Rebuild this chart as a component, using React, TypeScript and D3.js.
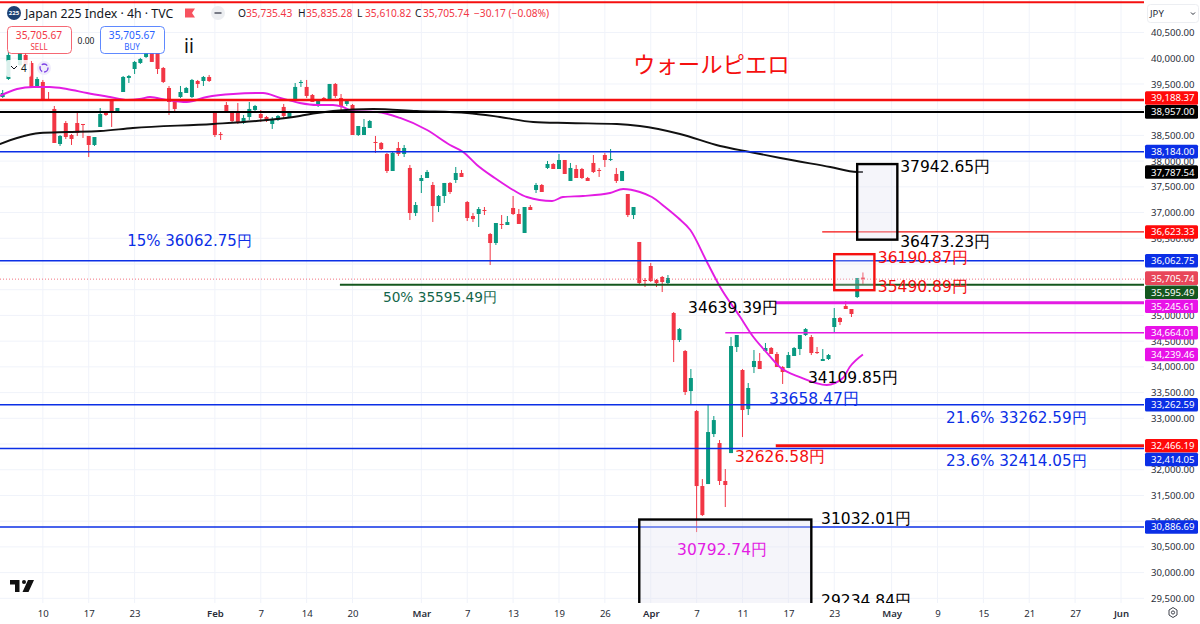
import React, { useEffect, useRef } from 'react';
import * as d3 from 'd3';

const WIDTH = 1200;
const HEIGHT = 624;
const PLOT_RIGHT = 1144;
const PLOT_BOTTOM = 603;

const UP = '#089981';
const DOWN = '#f23645';
const BLUE = '#0b2fe6';
const RED = '#f50f0f';
const MAGENTA = '#e31ce3';
const DARK_GREEN = '#14571f';
const FONT_UI = '"Noto Sans", sans-serif';
const FONT_NOTE = '"DejaVu Sans", sans-serif';

// open, high, low, close for every 4h bar
const bars: number[][] = [
  [39247, 39383, 39228, 39325], [39597, 40122, 39578, 40064], [40258, 40277, 40122, 40122], [39869, 40122, 39850, 40103],
  [40064, 40103, 39850, 39869], [39908, 39947, 39422, 39442], [39442, 39636, 39422, 39597], [39539, 39578, 39189, 39189],
  [39208, 39344, 39189, 39189], [39014, 39072, 38353, 38353], [38333, 38508, 38294, 38489], [38741, 38780, 38430, 38469],
  [38508, 38528, 38314, 38430], [38741, 38936, 38489, 38547], [38722, 38722, 38450, 38703], [38489, 38489, 38080, 38314],
  [38314, 38469, 38294, 38469], [38664, 39033, 38664, 38916], [38936, 38975, 38878, 38897], [39189, 39189, 38664, 38955],
  [38955, 39033, 38936, 39033], [39344, 39655, 39344, 39636], [39617, 39675, 39519, 39655], [39791, 39947, 39694, 39928],
  [39908, 40006, 39889, 39986], [40025, 40122, 40006, 40103], [40103, 40122, 39928, 39928], [40103, 40122, 39694, 39791],
  [39811, 39830, 39519, 39539], [39422, 39461, 38897, 39150], [39150, 39170, 38936, 39014], [39247, 39461, 39228, 39344],
  [39325, 39442, 39325, 39422], [39247, 39597, 39228, 39578], [39558, 39578, 39422, 39500], [39558, 39655, 39461, 39636],
  [39636, 39675, 39539, 39558], [38936, 38955, 38469, 38508], [38528, 38566, 38411, 38508], [39092, 39150, 38955, 38975],
  [38936, 38955, 38761, 38780], [38975, 39131, 38722, 38741], [38741, 38897, 38722, 38839], [38858, 39150, 38800, 39014],
  [38994, 39092, 38975, 39072], [38916, 38994, 38761, 38839], [38858, 38878, 38761, 38780], [38722, 38858, 38625, 38800],
  [38800, 38897, 38780, 38878], [39053, 39111, 38819, 38878], [38858, 38975, 38839, 38955], [39170, 39519, 39170, 39442],
  [39519, 39578, 39442, 39539], [39442, 39578, 39228, 39267], [39286, 39305, 39150, 39150], [39092, 39189, 39053, 39189],
  [39228, 39247, 39208, 39208], [39208, 39500, 39208, 39500], [39500, 39519, 39228, 39267], [39228, 39305, 38994, 39072],
  [39111, 39189, 39072, 39170], [39092, 39111, 38508, 38508], [38508, 38683, 38489, 38683], [38508, 38819, 38508, 38664],
  [38644, 38800, 38644, 38780], [38372, 38489, 38158, 38353], [38353, 38372, 38217, 38236], [38139, 38158, 37769, 37808],
  [37808, 38178, 37808, 38158], [38255, 38372, 38100, 38139], [38139, 38314, 38080, 38255], [37867, 37925, 36855, 36991],
  [36991, 37205, 36933, 37147], [37614, 37730, 37380, 37672], [37672, 37828, 37672, 37789], [37536, 37594, 36816, 37127],
  [37127, 37341, 37011, 37322], [37322, 37575, 37186, 37575], [37575, 37594, 37361, 37400], [37633, 37886, 37575, 37769],
  [37769, 37828, 37692, 37692], [37205, 37225, 36835, 36894], [36933, 36991, 36816, 36874], [36972, 37108, 36719, 37069],
  [37050, 37108, 36952, 37030], [36583, 36603, 35980, 36408], [36408, 36797, 36369, 36797], [36778, 36952, 36680, 36758],
  [36758, 36933, 36758, 36816], [37089, 37322, 36952, 36972], [36972, 37069, 36778, 36778], [36603, 37108, 36603, 37108],
  [37108, 37147, 37050, 37050], [37439, 37575, 37380, 37536], [37536, 37555, 37400, 37400], [37867, 38003, 37847, 37944],
  [37944, 37964, 37847, 37847], [37847, 38139, 37847, 38022], [38022, 38022, 37750, 37750], [37614, 37964, 37614, 37867],
  [37847, 37925, 37672, 37672], [37847, 37867, 37653, 37672], [37672, 37692, 37614, 37614], [37964, 38119, 37769, 37789],
  [37828, 37867, 37692, 37808], [38119, 38158, 37886, 38022], [38022, 38236, 38003, 38041], [37750, 37867, 37575, 37614],
  [37614, 37808, 37614, 37808], [37361, 37361, 36913, 36952], [36952, 37108, 36874, 37108], [36428, 36428, 35611, 35630],
  [35689, 35728, 35553, 35669], [35961, 36020, 35650, 35669], [35689, 35708, 35553, 35630], [35747, 35767, 35455, 35650],
  [35630, 35786, 35611, 35728], [35047, 35066, 34094, 34522], [34522, 34755, 34483, 34735], [34308, 34328, 33453, 33511],
  [33530, 33958, 33258, 33783], [33141, 33161, 30788, 31683], [31683, 31819, 31100, 31119], [31722, 33258, 31722, 32733],
  [32694, 33044, 32636, 32966], [32519, 32578, 31703, 31781], [31781, 32014, 31275, 31703], [32324, 34580, 32324, 34405],
  [34386, 34619, 34289, 34619], [33939, 33958, 32636, 33161], [33180, 33686, 33064, 33589], [33997, 34328, 33880, 34114],
  [34114, 34269, 33958, 33958], [34308, 34464, 34289, 34367], [34367, 34386, 34250, 34250], [34250, 34289, 33997, 33997],
  [33997, 34016, 33667, 33900], [33978, 34289, 33978, 34230], [34211, 34386, 34211, 34367], [34347, 34619, 34230, 34619],
  [34619, 34755, 34600, 34735], [34580, 34619, 34230, 34269], [34289, 34386, 34250, 34269], [34114, 34347, 34114, 34153],
  [34153, 34250, 34133, 34230], [34775, 35144, 34677, 34950], [34950, 34969, 34813, 34872], [35183, 35280, 35125, 35125],
  [35125, 35125, 34969, 35028], [35358, 35728, 35339, 35728], [35735.43, 35835.28, 35610.82, 35705.74],
];

// moving averages: [bar position, price]
const pinkMa: number[][] = [
  [-0.5, 39267], [2.5, 39403], [5.3, 39442], [8.2, 39442], [11.2, 39403], [14.7, 39325], [18.7, 39247], [21.8, 39189],
  [23.9, 39208], [25.7, 39247], [28.6, 39189], [32.1, 39150], [35.6, 39247], [40.2, 39305], [45.4, 39325], [48.4, 39228],
  [51.8, 39131], [54.8, 39092], [57.6, 39092], [59.3, 39053], [61, 38975], [65.3, 38955], [69.3, 38839], [74, 38605],
  [78, 38314], [80.3, 38178], [82.7, 37925], [85.8, 37672], [89, 37439], [91.4, 37302], [95.8, 37225], [97.7, 37302],
  [101.2, 37322], [105.9, 37380], [108.2, 37458], [111.1, 37400], [113.2, 37302], [115.5, 37108], [117.8, 36894],
  [119.9, 36661], [122.8, 36039], [125.1, 35553], [128.6, 34969], [130.9, 34580], [133.3, 34269], [135.5, 33997],
  [139, 33802], [143.7, 33647], [146.5, 33783], [147.7, 33997], [150, 34239.46],
];
const blackMa: number[][] = [
  [-0.5, 38333], [2.5, 38450], [6.5, 38547], [11.2, 38566], [17, 38586], [22.7, 38644], [36.7, 38722], [46.1, 38800],
  [51.8, 38878], [54.8, 38936], [57.6, 38975], [64.6, 39014], [72.2, 38975], [81, 38936], [86.7, 38858], [92.5, 38761],
  [98.4, 38741], [107.1, 38722], [111.1, 38683], [118.1, 38528], [125.1, 38294], [130.3, 38178], [135.6, 38061],
  [144.3, 37886], [149, 37789], [150, 37787.54],
];

const priceTicks = [
  40500, 40000, 39500, 39000, 38500, 38000, 37500, 37000, 36500, 36000, 35500, 35000, 34500, 34000, 33500, 33000,
  32500, 32000, 31500, 31000, 30500, 30000, 29500,
];
// these sit fully behind a price tag in the picture
const hiddenPriceLabels = [39000, 36000, 35500, 32500];
const timeTickIndex = [7, 15, 23, 37, 45, 53, 61, 73, 81, 89, 97, 105, 113, 121, 129, 137, 145, 155, 163, 171, 179, 187, 195];
const timeTickLabels = ['10', '17', '23', 'Feb', '7', '14', '20', 'Mar', '7', '13', '19', '26', 'Apr', '7', '11', '17', '23', 'May', '9', '15', '21', '27', 'Jun'];
const monthLabels = ['Feb', 'Mar', 'Apr', 'May', 'Jun'];

// horizontal levels: [price, first bar, colour, stroke width]
const levels: [number, number, string, number][] = [
  [41090, -1, RED, 2],
  [39188.37, -1, RED, 2.4],
  [38957, -1, '#000000', 2],
  [38184, -1, BLUE, 1.5],
  [36623.33, 142.9, RED, 1.2],
  [36062.75, -1, BLUE, 1.4],
  [35595.49, 58.8, DARK_GREEN, 2],
  [35245.61, 134.8, MAGENTA, 3],
  [34664.01, 126, MAGENTA, 1.5],
  [33262.59, -1, BLUE, 1.5],
  [32466.19, 134.8, RED, 3],
  [32414.05, -1, BLUE, 1.5],
  [30886.69, -1, BLUE, 1.5],
];

// price tags on the right: [price, background]
const priceTags: [number, string][] = [
  [39188.37, '#ff0a0a'],
  [38957, '#000000'],
  [38184, '#0b2fe6'],
  [37787.54, '#000000'],
  [36623.33, '#ff0a0a'],
  [36062.75, '#0b2fe6'],
  [35705.74, '#e8465a'],
  [35595.49, DARK_GREEN],
  [35245.61, '#e812e8'],
  [34664.01, '#e812e8'],
  [34239.46, '#e812e8'],
  [33262.59, '#0b2fe6'],
  [32466.19, '#ff0a0a'],
  [32414.05, '#0b2fe6'],
  [30886.69, '#0b2fe6'],
];
// tags pushed aside so they do not collide, in pixels
const tagShift = new Map<number, number>([
  [39188.37, -2],
  [35705.74, -1],
  [35595.49, 7.5],
  [35245.61, 3.5],
  [32414.05, 11],
]);

// range boxes: [first bar, last bar, top price, bottom price, colour]
const boxes: [number, number, number, number, string][] = [
  [149, 156, 37942.65, 36473.23, '#000000'],
  [145, 152, 36190.87, 35490.89, RED],
  [111, 141, 31032.01, 29234.84, '#000000'],
];

// notes: [text, bar position, price, colour, size]
const notes: [string, number, number, string, number][] = [
  ['37942.65円', 156.5, 37888, '#000000', 15.5],
  ['36473.23円', 156.5, 36445, '#000000', 15.5],
  ['36190.87円', 152.6, 36120, RED, 15.5],
  ['35490.89円', 152.6, 35555, RED, 15.5],
  ['34639.39円', 119.5, 35165, '#000000', 15.5],
  ['34109.85円', 140.4, 33804, '#000000', 15.5],
  ['33658.47円', 133.6, 33396, BLUE, 15.5],
  ['32626.58円', 127.7, 32268, RED, 15.5],
  ['30792.74円', 117.6, 30460, MAGENTA, 15.5],
  ['31032.01円', 142.7, 31063, '#000000', 15.5],
  ['29234.84円', 142.7, 29460, '#000000', 15.5],
  ['15% 36062.75円', 21.7, 36447, BLUE, 15],
  ['50% 35595.49円', 66.3, 35359, '#14664a', 13.7],
  ['21.6% 33262.59円', 164.5, 33007, BLUE, 15.2],
  ['23.6% 32414.05円', 164.5, 32170, BLUE, 15.2],
];

const legendValues = [
  ['O', '35,735.43', 238],
  ['H', '35,835.28', 298],
  ['L', '35,610.82', 357],
  ['C', '35,705.74', 415],
];

const App: React.FC = () => {
  const svgRef = useRef<SVGSVGElement>(null);

  useEffect(() => {
    if (!svgRef.current) return;
    const svg = d3.select(svgRef.current);
    svg.selectAll('*').remove();

    const x = d3.scaleLinear().domain([0, 195]).range([2.7, 1121]);
    const y = d3.scaleLinear().domain([39188.37, 30886.69]).range([100, 527]);

    svg.append('rect').attr('width', WIDTH).attr('height', HEIGHT).attr('fill', '#ffffff');

    svg.append('defs').append('clipPath').attr('id', 'plot-clip')
      .append('rect').attr('width', PLOT_RIGHT).attr('height', PLOT_BOTTOM);

    const plot = svg.append('g').attr('clip-path', 'url(#plot-clip)');

    // Grid
    plot.selectAll('.grid-y').data(priceTicks).enter().append('line')
      .attr('x1', 0).attr('x2', PLOT_RIGHT)
      .attr('y1', d => y(d)).attr('y2', d => y(d))
      .attr('stroke', '#f0f3fa').attr('stroke-width', 1);
    plot.selectAll('.grid-x').data(timeTickIndex).enter().append('line')
      .attr('y1', 0).attr('y2', PLOT_BOTTOM)
      .attr('x1', d => x(d)).attr('x2', d => x(d))
      .attr('stroke', '#f0f3fa').attr('stroke-width', 1);

    // Candles
    const candles = plot.selectAll('.candle').data(bars).enter().append('g');
    candles.append('line')
      .attr('x1', (_, i) => x(i)).attr('x2', (_, i) => x(i))
      .attr('y1', d => y(d[1])).attr('y2', d => y(d[2]))
      .attr('stroke', d => (d[3] >= d[0] ? UP : DOWN)).attr('stroke-width', 1);
    candles.append('rect')
      .attr('x', (_, i) => x(i) - 2)
      .attr('width', 4)
      .attr('y', d => y(Math.max(d[0], d[3])))
      .attr('height', d => Math.max(1, Math.abs(y(d[0]) - y(d[3]))))
      .attr('fill', d => (d[3] >= d[0] ? UP : DOWN));

    // Moving averages
    const maLine = d3.line<number[]>().x(d => x(d[0])).y(d => y(d[1])).curve(d3.curveMonotoneX);
    plot.append('path').attr('d', maLine(pinkMa)).attr('fill', 'none').attr('stroke', MAGENTA).attr('stroke-width', 1.9);
    plot.append('path').attr('d', maLine(blackMa)).attr('fill', 'none').attr('stroke', '#111111').attr('stroke-width', 1.9);

    // Last price dotted line
    plot.append('line')
      .attr('x1', 0).attr('x2', PLOT_RIGHT)
      .attr('y1', y(35705.74)).attr('y2', y(35705.74))
      .attr('stroke', '#f2707e').attr('stroke-width', 1).attr('stroke-dasharray', '1,2');

    // Levels
    plot.selectAll('.level').data(levels).enter().append('line')
      .attr('x1', d => x(d[1])).attr('x2', PLOT_RIGHT)
      .attr('y1', d => y(d[0])).attr('y2', d => y(d[0]))
      .attr('stroke', d => d[2]).attr('stroke-width', d => d[3]);

    // Range boxes
    plot.selectAll('.box').data(boxes).enter().append('rect')
      .attr('x', d => x(d[0])).attr('width', d => x(d[1]) - x(d[0]))
      .attr('y', d => y(d[2])).attr('height', d => y(d[3]) - y(d[2]))
      .attr('fill', d => (d[4] === RED ? 'rgba(230,230,245,0.25)' : 'rgba(225,225,242,0.35)'))
      .attr('stroke', d => d[4]).attr('stroke-width', 2.4);

    // Notes
    plot.selectAll('.note').data(notes).enter().append('text')
      .attr('x', d => x(d[1])).attr('y', d => y(d[2]))
      .attr('dy', '0.36em')
      .attr('fill', d => d[3]).attr('font-size', d => d[4])
      .attr('font-family', FONT_NOTE)
      .text(d => d[0]);

    plot.append('text')
      .attr('x', 633).attr('y', 65).attr('dy', '0.36em')
      .attr('fill', RED).attr('font-size', 22.4)
      .attr('font-family', '"Noto Sans CJK JP", sans-serif')
      .text('ウォールピエロ');

    plot.append('text')
      .attr('x', 184).attr('y', 46).attr('dy', '0.36em')
      .attr('fill', '#111111').attr('font-size', 19)
      .attr('font-family', FONT_UI)
      .text('ii');

    // Axis panel backgrounds
    svg.append('rect').attr('x', PLOT_RIGHT).attr('width', WIDTH - PLOT_RIGHT).attr('height', HEIGHT).attr('fill', '#ffffff');
    svg.append('rect').attr('y', PLOT_BOTTOM).attr('width', WIDTH).attr('height', HEIGHT - PLOT_BOTTOM).attr('fill', '#ffffff');

    // Price axis
    const yAxis = d3.axisRight(y)
      .tickValues(priceTicks.filter(d => !hiddenPriceLabels.includes(d)))
      .tickFormat(d3.format(',.2f') as any).tickSize(0).tickPadding(0);
    const yAxisG = svg.append('g').attr('transform', 'translate(1151,0)').call(yAxis);
    yAxisG.select('.domain').remove();
    yAxisG.selectAll('text').attr('fill', '#2a2e39').attr('font-size', 9.6).attr('font-family', FONT_UI);

    // Time axis
    const xAxis = d3.axisBottom(x).tickValues(timeTickIndex)
      .tickFormat((_, i) => timeTickLabels[i]).tickSize(0).tickPadding(0);
    const xAxisG = svg.append('g').attr('transform', 'translate(0,610)').call(xAxis);
    xAxisG.select('.domain').remove();
    xAxisG.selectAll('text')
      .attr('fill', '#2a2e39').attr('font-size', 9.6).attr('font-family', FONT_UI)
      .attr('font-weight', (_, i) => (monthLabels.includes(timeTickLabels[i]) ? 600 : 400));

    // Price tags
    const tags = svg.selectAll('.tag').data(priceTags).enter().append('g')
      .attr('transform', d => `translate(1145,${y(d[0]) + (tagShift.get(d[0]) ?? 0)})`);
    tags.append('rect')
      .attr('y', -6.8).attr('width', 53).attr('height', 13.6).attr('rx', 1.5)
      .attr('fill', d => d[1]);
    tags.append('text')
      .attr('x', 6).attr('dy', '0.36em')
      .attr('fill', '#ffffff').attr('font-size', 9.6).attr('font-family', FONT_UI)
      .text(d => d3.format(',.2f')(d[0]));

    // JPY selector
    const jpy = svg.append('g');
    jpy.append('rect').attr('x', 1147.5).attr('y', 4.5).attr('width', 51).attr('height', 18).attr('rx', 3)
      .attr('fill', '#ffffff').attr('stroke', '#eceef2');
    jpy.append('text').attr('x', 1150).attr('y', 17).attr('fill', '#2a2e39')
      .attr('font-size', 9.6).attr('font-family', FONT_UI).text('JPY');
    jpy.append('path').attr('d', 'M1191 12.5l2 2 2-2').attr('fill', 'none').attr('stroke', '#2a2e39').attr('stroke-width', 1);

    // Settings icon
    svg.append('path')
      .attr('d', 'M1169 610l4-2.5 4 2.5v5l-4 2.5-4-2.5z')
      .attr('fill', 'none').attr('stroke', '#2a2e39').attr('stroke-width', 0.9);
    svg.append('circle').attr('cx', 1173).attr('cy', 612.5).attr('r', 1.6)
      .attr('fill', 'none').attr('stroke', '#2a2e39').attr('stroke-width', 0.9);

    // Header
    const header = svg.append('g').attr('font-family', FONT_UI);
    header.append('circle').attr('cx', 14).attr('cy', 13).attr('r', 7).attr('fill', '#1d4173');
    header.append('text').attr('x', 14).attr('y', 15).attr('text-anchor', 'middle')
      .attr('fill', '#ffffff').attr('font-size', 6).attr('font-weight', 700).text('225');
    header.append('text').attr('x', 25).attr('y', 18).attr('fill', '#131722').attr('font-size', 12.3)
      .text('Japan 225 Index · 4h · TVC');
    header.append('path').attr('d', 'M185 8.5h10l-3 4.5 3 4.5h-10z').attr('fill', '#f7525f');
    header.append('circle').attr('cx', 218).attr('cy', 13).attr('r', 7).attr('fill', '#eceef1');
    header.append('rect').attr('x', 214.5).attr('y', 12).attr('width', 7).attr('height', 2).attr('fill', '#787b86');

    legendValues.forEach(d => {
      header.append('text').attr('x', d[2]).attr('y', 17).attr('fill', '#131722').attr('font-size', 10.2).text(d[0]);
      header.append('text').attr('x', (d[2] as number) + 8).attr('y', 17).attr('fill', DOWN).attr('font-size', 10.2).text(d[1]);
    });
    header.append('text').attr('x', 474).attr('y', 17).attr('fill', DOWN).attr('font-size', 10.2).text('−30.17 (−0.08%)');

    // Sell and buy buttons
    const buttons: [number, string, string, string][] = [
      [7, DOWN, '35,705.67', 'SELL'],
      [100, '#2962ff', '35,705.67', 'BUY'],
    ];
    buttons.forEach(([bx, colour, price, label]) => {
      header.append('rect').attr('x', bx + 0.5).attr('y', 26.5).attr('width', 64).attr('height', 27).attr('rx', 4)
        .attr('fill', '#ffffff').attr('stroke', colour).attr('stroke-opacity', 0.75);
      header.append('text').attr('x', bx + 32).attr('y', 38.5).attr('text-anchor', 'middle')
        .attr('fill', colour).attr('font-size', 10.2).text(price);
      header.append('text').attr('x', bx + 32).attr('y', 49.5).attr('text-anchor', 'middle')
        .attr('fill', colour).attr('font-size', 8).text(label);
    });
    header.append('text').attr('x', 86).attr('y', 43.5).attr('text-anchor', 'middle')
      .attr('fill', '#131722').attr('font-size', 8.5).text('0.00');

    // Collapsed indicators pill
    header.append('rect').attr('x', 6).attr('y', 60).attr('width', 25).attr('height', 17).attr('rx', 2)
      .attr('fill', 'rgba(255,255,255,0.85)');
    header.append('path').attr('d', 'M11 66l3 3 3-3').attr('fill', 'none').attr('stroke', '#131722').attr('stroke-width', 1);
    header.append('text').attr('x', 21).attr('y', 72).attr('fill', '#131722').attr('font-size', 10).text('4');
    header.append('circle').attr('cx', 44).attr('cy', 68).attr('r', 7).attr('fill', '#efecfb');
    header.append('circle').attr('cx', 44).attr('cy', 68).attr('r', 4).attr('fill', 'none')
      .attr('stroke', '#7b3fe4').attr('stroke-width', 1.3).attr('stroke-dasharray', '6,2');

    // TradingView mark
    svg.append('path')
      .attr('d', 'M10 580h9.5v12h-4.5v-7.5h-5z M28 580h6l-5.5 12h-6z')
      .attr('fill', '#111111');
    svg.append('circle').attr('cx', 24).attr('cy', 582).attr('r', 2).attr('fill', '#111111');
  }, []);

  return (
    <svg
      ref={svgRef}
      width={WIDTH}
      height={HEIGHT}
      style={{ position: 'absolute', left: 0, top: 0, display: 'block' }}
    />
  );
};

export default App;
